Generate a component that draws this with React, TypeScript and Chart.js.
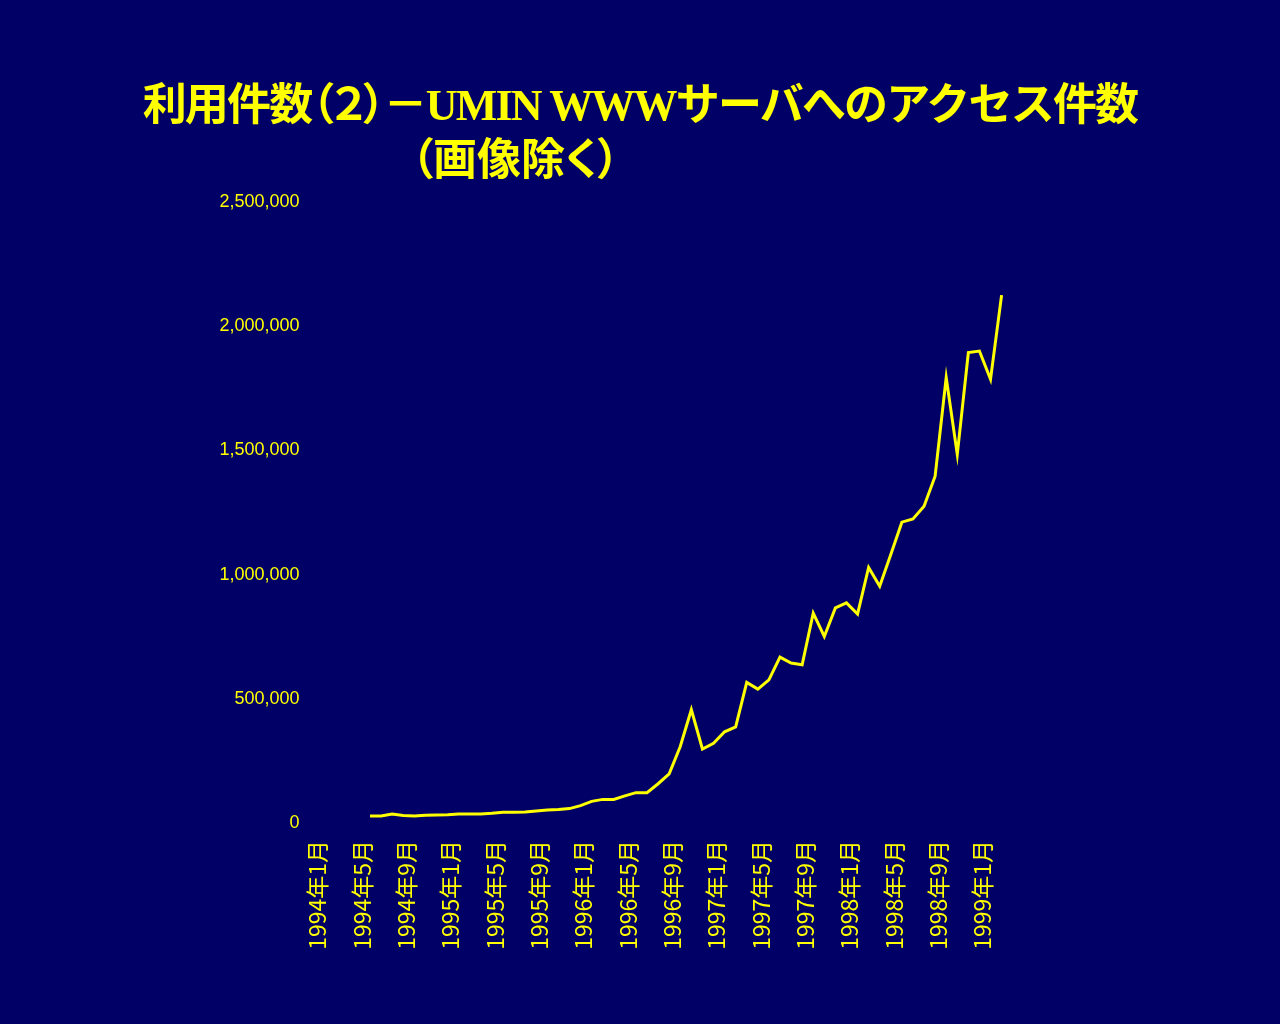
import React, { useEffect, useRef } from "react";
import { Chart, registerables } from "chart.js";

Chart.register(...registerables);

// Categories: every month from 1994年1月 to 1999年3月
const months: string[] = [
  "1994年1月", "1994年2月", "1994年3月", "1994年4月", "1994年5月", "1994年6月",
  "1994年7月", "1994年8月", "1994年9月", "1994年10月", "1994年11月", "1994年12月",
  "1995年1月", "1995年2月", "1995年3月", "1995年4月", "1995年5月", "1995年6月",
  "1995年7月", "1995年8月", "1995年9月", "1995年10月", "1995年11月", "1995年12月",
  "1996年1月", "1996年2月", "1996年3月", "1996年4月", "1996年5月", "1996年6月",
  "1996年7月", "1996年8月", "1996年9月", "1996年10月", "1996年11月", "1996年12月",
  "1997年1月", "1997年2月", "1997年3月", "1997年4月", "1997年5月", "1997年6月",
  "1997年7月", "1997年8月", "1997年9月", "1997年10月", "1997年11月", "1997年12月",
  "1998年1月", "1998年2月", "1998年3月", "1998年4月", "1998年5月", "1998年6月",
  "1998年7月", "1998年8月", "1998年9月", "1998年10月", "1998年11月", "1998年12月",
  "1999年1月", "1999年2月", "1999年3月",
];

// Monthly access counts (images excluded); no data before 1994年6月
const accessCounts: (number | null)[] = [
  null, null, null, null, null, 20000,
  20000, 28000, 22000, 20000, 23000, 24000,
  25000, 28000, 28000, 28000, 31000, 35000,
  35000, 36000, 40000, 44000, 46000, 50000,
  62000, 79000, 87000, 87000, 101000, 114000,
  114000, 150000, 190000, 300000, 448000, 290000,
  313000, 359000, 379000, 558000, 531000, 568000,
  660000, 636000, 629000, 837000, 743000, 858000,
  878000, 833000, 1021000, 945000, 1073000, 1203000,
  1216000, 1267000, 1388000, 1785000, 1476000, 1886000,
  1892000, 1778000, 2117000,
];

const yMin = 0;
const yMax = 2500000;
const yStep = 500000;
const labelEvery = 4;

const titleLine1a = "利用件数";
const titleLine1b = "（２）－";
const titleLine1c = "UMIN WWWサーバへのアクセス件数";
const titleLine2 = "（画像除く）";

const BG = "#000066";
const FG = "#ffff00";

export default function App() {
  const canvasRef = useRef<HTMLCanvasElement | null>(null);

  useEffect(() => {
    const canvas = canvasRef.current;
    if (!canvas) return;
    const chart = new Chart(canvas, {
      type: "line",
      data: {
        labels: months,
        datasets: [
          {
            data: accessCounts,
            borderColor: FG,
            backgroundColor: FG,
            borderWidth: 3,
            pointRadius: 0,
            fill: false,
            tension: 0,
            spanGaps: false,
          },
        ],
      },
      options: {
        animation: false,
        responsive: false,
        devicePixelRatio: 1,
        layout: { padding: { left: 0, right: 278.4, top: 200, bottom: 0 } },
        plugins: {
          legend: { display: false },
          tooltip: { enabled: false },
          title: { display: false },
        },
        scales: {
          x: {
            type: "category",
            offset: false,
            grid: { display: false, drawTicks: false },
            border: { display: false },
            ticks: {
              color: FG,
              autoSkip: false,
              minRotation: 90,
              maxRotation: 90,
              padding: 19,
              labelOffset: 3,
              font: { family: '"Noto Sans CJK JP", sans-serif', size: 23 },
              callback: (_v: any, i: number) => (i % labelEvery === 0 ? months[i] : ""),
            },
            afterFit: (s: any) => {
              s.height = 203;
            },
          },
          y: {
            min: yMin,
            max: yMax,
            grid: { display: false, drawTicks: false },
            border: { display: false },
            ticks: {
              stepSize: yStep,
              color: FG,
              padding: 15,
              labelOffset: 2,
              font: {
                family: '"Liberation Sans Narrow", "Liberation Sans", sans-serif',
                size: 18,
              },
              callback: (v: any) => Number(v).toLocaleString("en-US"),
            },
            afterFit: (s: any) => {
              s.width = 314.6;
            },
          },
        },
      } as any,
    });
    return () => chart.destroy();
  }, []);

  const titleFont = '"Liberation Serif", "Noto Sans CJK JP", serif';
  const palt: React.CSSProperties = { fontFeatureSettings: '"palt"' };

  return (
    <div
      style={{
        position: "fixed",
        left: 0,
        top: 0,
        width: 1280,
        height: 1024,
        background: BG,
        overflow: "hidden",
      }}
    >
      <canvas ref={canvasRef} width={1280} height={1024} style={{ display: "block", position: "absolute", left: 0, top: 0 }} />
      <div
        style={{
          position: "absolute",
          left: 0,
          top: 84,
          width: 1280,
          textAlign: "center",
          color: FG,
          fontFamily: titleFont,
          fontWeight: "bold",
          fontSize: 44,
          lineHeight: "44px",
          letterSpacing: "-1.8px",
          whiteSpace: "nowrap",
        }}
      >
        {titleLine1a}
        <span style={palt}>{titleLine1b}</span>
        {titleLine1c}
      </div>
      <div
        style={{
          position: "absolute",
          left: 411,
          top: 139,
          color: FG,
          fontFamily: titleFont,
          fontWeight: "bold",
          fontSize: 44,
          lineHeight: "44px",
          whiteSpace: "nowrap",
          ...palt,
        }}
      >
        {titleLine2}
      </div>
    </div>
  );
}
